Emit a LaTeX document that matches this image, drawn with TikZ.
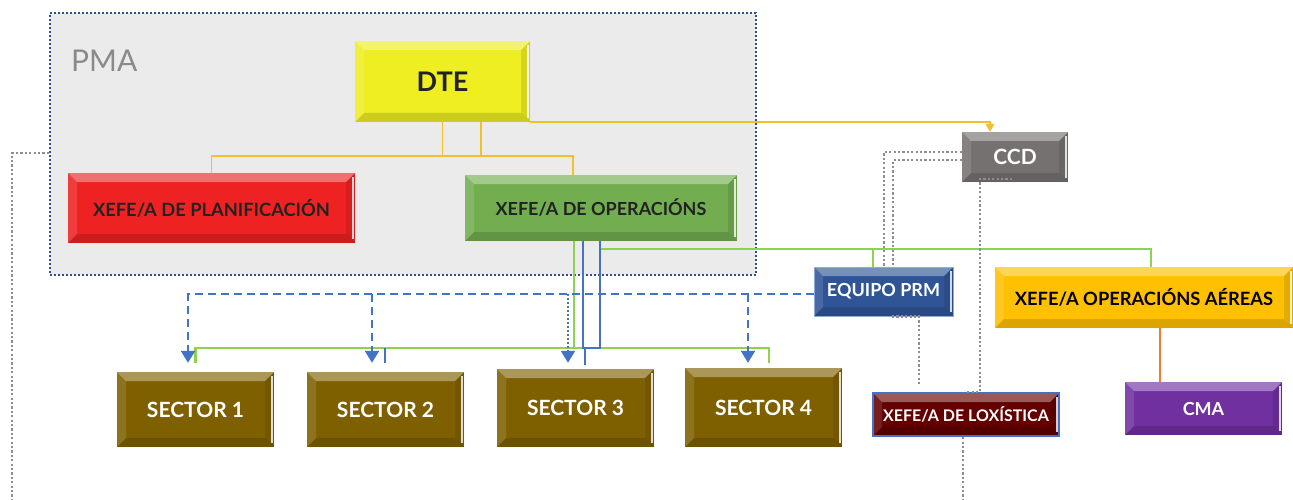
\documentclass[tikz,border=0pt]{standalone}
\usepackage{fontspec}
\setmainfont{Lato}
\usetikzlibrary{calc,arrows.meta}
\definecolor{pmafill}{HTML}{EBEBEB}
\definecolor{pmaline}{HTML}{2F4F8F}
\definecolor{pmatext}{HTML}{8A8A8A}
\definecolor{cdte}{HTML}{EEEE22}
\definecolor{cplan}{HTML}{EE2222}
\definecolor{coper}{HTML}{72AD50}
\definecolor{cccd}{HTML}{767171}
\definecolor{cprm}{HTML}{2F5597}
\definecolor{caer}{HTML}{FFC000}
\definecolor{clox}{HTML}{640000}
\definecolor{ccma}{HTML}{7030A0}
\definecolor{csec}{HTML}{7F6000}
\definecolor{cyel}{HTML}{F2C02E}
\definecolor{cgrn}{HTML}{92D050}
\definecolor{cblu}{HTML}{4472C4}
\definecolor{cgry}{HTML}{8E8E8E}
\definecolor{corg}{HTML}{ED7D31}
\definecolor{ctxt}{HTML}{222222}
\tikzset{
  bevel/.style={path picture={
    \fill[white,opacity=.35] (path picture bounding box.north west) -- (path picture bounding box.north east)
      -- ([xshift=-9pt,yshift=-9pt]path picture bounding box.north east) -- ([xshift=9pt,yshift=-9pt]path picture bounding box.north west) -- cycle;
    \fill[white,opacity=.12] (path picture bounding box.north west) -- ([xshift=9pt,yshift=-9pt]path picture bounding box.north west)
      -- ([xshift=9pt,yshift=9pt]path picture bounding box.south west) -- (path picture bounding box.south west) -- cycle;
    \fill[black,opacity=.10] (path picture bounding box.north east) -- ([xshift=-9pt,yshift=-9pt]path picture bounding box.north east)
      -- ([xshift=-9pt,yshift=9pt]path picture bounding box.south east) -- (path picture bounding box.south east) -- cycle;
    \fill[black,opacity=.14] (path picture bounding box.south west) -- ([xshift=9pt,yshift=9pt]path picture bounding box.south west)
      -- ([xshift=-9pt,yshift=9pt]path picture bounding box.south east) -- (path picture bounding box.south east) -- cycle;
    \draw[white,opacity=.8,line width=2pt] ([xshift=-2pt,yshift=-4pt]path picture bounding box.north east) -- ([xshift=-2pt,yshift=4pt]path picture bounding box.south east);
  }},
  box/.style={rectangle,inner sep=0pt,bevel,font=\bfseries},
  darktext/.style={text=ctxt},
  lighttext/.style={text=white},
  sector/.style={box,fill=csec,lighttext,minimum width=157pt,font=\bfseries\fontsize{21}{21}\selectfont},
  yel/.style={draw=cyel,line width=1.6pt},
  grn/.style={draw=cgrn,line width=2.4pt},
  blu/.style={draw=cblu,line width=2.5pt},
  bdash/.style={draw=cblu,line width=2.5pt,dash pattern=on 8pt off 5pt,-{Triangle[width=14pt,length=12pt]}},
  bdot/.style={draw=cblu,line width=2pt,dash pattern=on 2pt off 2pt,-{Triangle[width=14pt,length=12pt]}},
  gdot/.style={draw=cgry,line width=2.2pt,dash pattern=on 2.2pt off 2.2pt},
  org/.style={draw=corg,line width=2.5pt},
}
\begin{document}
\begin{tikzpicture}[x=1pt,y=-1pt]
\useasboundingbox (0,0) rectangle (1293,500);
% PMA region
\node[rectangle,fill=pmafill,draw=pmaline,line width=2pt,dash pattern=on 2pt off 2pt,
  minimum width=706pt,minimum height=262pt,inner sep=0pt] (pma) at (403,144) {};
\node[text=pmatext,font=\fontsize{30}{30}\selectfont,anchor=west,inner sep=0pt] (pmalabel) at (71,61) {PMA};
% boxes
\node[box,fill=cdte,darktext,minimum width=175pt,minimum height=81pt,font=\bfseries\fontsize{27}{27}\selectfont] (dte) at (442.5,81.5) {DTE};
\node[box,fill=cplan,darktext,minimum width=287pt,minimum height=70pt,font=\bfseries\fontsize{18.3}{18.3}\selectfont] (plan) at (211.5,208) {XEFE/A DE PLANIFICACIÓN};
\node[box,fill=coper,darktext,minimum width=272pt,minimum height=66pt,font=\bfseries\fontsize{18}{18}\selectfont] (oper) at (601,208) {XEFE/A DE OPERACIÓNS};
\node[box,fill=cccd,lighttext,minimum width=106pt,minimum height=50pt,font=\bfseries\fontsize{21}{21}\selectfont] (ccd) at (1015,157) {CCD};
\node[box,fill=cprm,lighttext,draw=cblu!60,line width=1pt,minimum width=139pt,minimum height=49pt,font=\bfseries\fontsize{18}{18}\selectfont] (prm) at (883.5,291.5) {EQUIPO PRM};
\node[box,fill=caer,darktext,minimum width=298pt,minimum height=61pt,font=\bfseries\fontsize{18.3}{18.3}\selectfont,text=black] (aer) at (1144,297.5) {XEFE/A OPERACIÓNS AÉREAS};
\node[box,fill=clox,lighttext,draw=cblu,line width=2.5pt,minimum width=186pt,minimum height=43pt,font=\bfseries\fontsize{16}{16}\selectfont] (lox) at (966,414.5) {XEFE/A DE LOXÍSTICA};
\node[box,fill=ccma,lighttext,minimum width=157pt,minimum height=53pt,font=\bfseries\fontsize{18}{18}\selectfont] (cma) at (1203.5,408.5) {CMA};
\node[sector,minimum height=75pt] (s1) at (195.5,409.5) {SECTOR 1};
\node[sector,minimum height=75pt] (s2) at (385.5,409.5) {SECTOR 2};
\node[sector,minimum height=78pt] (s3) at (575.5,408) {SECTOR 3};
\node[sector,minimum height=79pt] (s4) at (763.5,407.5) {SECTOR 4};
\coordinate (bl) at (12,500);
% yellow connectors
\draw[yel] (dte.south) -- ++(0,34) -| ($(dte.south)+(38.5,0)$);
\draw[yel] (plan.north) -- ++(0,-17) -| ($(oper.north)+(-28,0)$);
\draw[yel,-{Triangle[width=9pt,length=8pt]}] (dte.south east) -| ($(ccd.north)+(-25,0)$);
% green connectors
\draw[grn] ($(oper.south)+(-27,0)$) -- ++(0,107);
\draw[grn] ($(s1.north)+(0,-9)$) -- ++(0,-15) -| ($(s4.north)+(5.5,-5)$);
\draw[grn] ($(oper.south)+(-1,8)$) -| ($(aer.north)+(7,0)$);
\draw[grn] ($(prm.north)+(-10.5,0)$) -- ++(0,-18);
% blue solid connectors
\draw[blu] ($(oper.south)+(-18,0)$) -- ++(0,107) -- ++(17,0) -- ++(0,-107);
\draw[blu] ($(s3.north)+(9.5,-4)$) -- ++(0,-17);
\draw[blu] ($(s2.north)+(-0.5,-9)$) -- ++(0,-15);
% blue dashed connectors
\draw[bdash] ($(prm.west)+(0,2.5)$) -| ($(s1.north)+(-7.5,-9)$);
\draw[bdash] ($(s2.north)+(-13.5,-78)$) -- ($(s2.north)+(-13.5,-9)$);
\draw[bdot] ($(s3.north)+(-7.5,-75)$) -- ($(s3.north)+(-7.5,-6)$);
\draw[bdash] ($(s4.north)+(-15.5,-74)$) -- ($(s4.north)+(-15.5,-5)$);
% grey dotted connectors
\draw[gdot] ($(pma.west)+(0,9)$) -| (bl);
\draw[gdot] ($(ccd.west)+(0,-5)$) -| ($(prm.north)+(0.5,0)$);
\draw[gdot] ($(ccd.west)+(0,3)$) -| ($(prm.north)+(9.5,0)$);
\draw[gdot] ($(ccd.south)+(-3,-3)$) -- ($(ccd.south)+(-35,-3)$) -- ($(lox.north)+(14,0)$) -- ($(lox.north)+(-1,0)$);
\draw[gdot] ($(lox.south)+(-3,0)$) -- ++(0,63);
\draw[gdot] ($(prm.south)+(8.5,0)$) -- ($(prm.south)+(35.5,0)$) -- ++(0,69);
% orange connector
\draw[org] ($(aer.south)+(16,0)$) -- ($(cma.north)+(-43.5,0)$);
\end{tikzpicture}
\end{document}
